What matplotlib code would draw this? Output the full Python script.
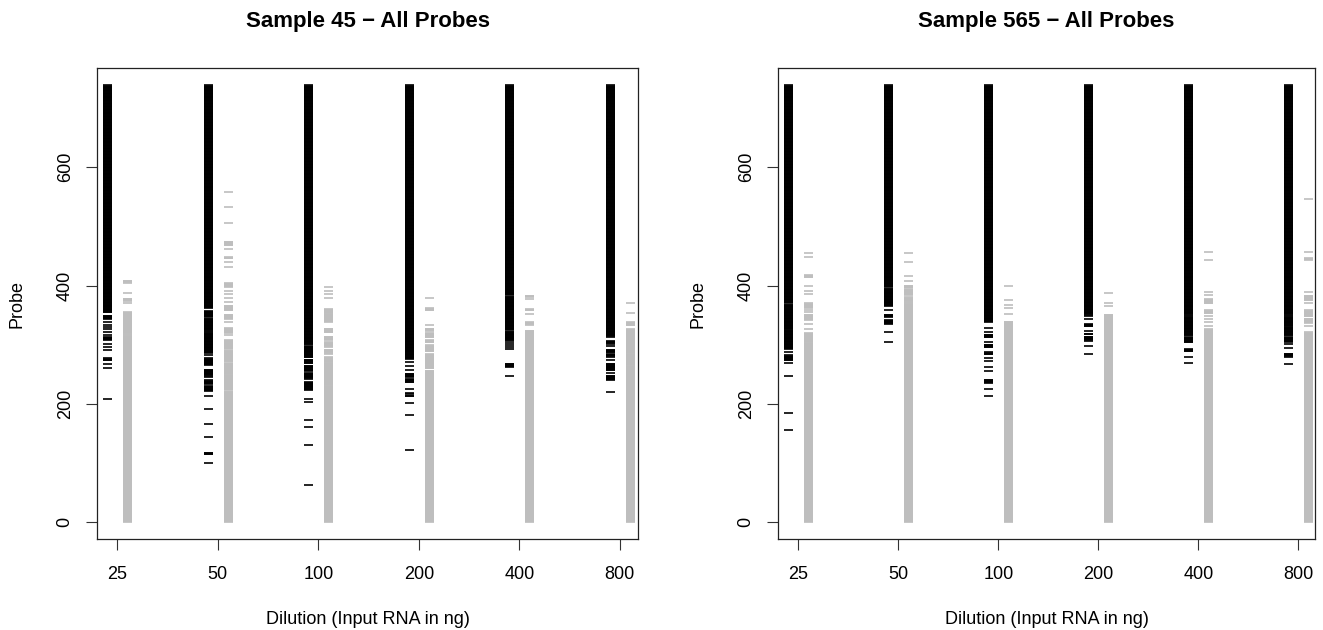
import numpy as np
import matplotlib.pyplot as plt

plt.rcParams['font.family'] = ['Liberation Sans', 'DejaVu Sans']

dilutions = ['25', '50', '100', '200', '400', '800']

# probe ranges (first, last) per dilution
# black = detected probes, gray = not detected
s45_black = [
    [(355, 738), (344, 349), (338, 338), (334, 334), (330, 330), (326, 326), (321, 321), (317, 317),
     (308, 313), (301, 301), (296, 296), (292, 292), (274, 277), (268, 268), (261, 261), (208, 208)],
    [(362, 738), (347, 357), (324, 344), (286, 321), (283, 283), (266, 277), (248, 258), (246, 246),
     (234, 240), (222, 230), (213, 213), (192, 192), (166, 166), (144, 144), (115, 118), (101, 101)],
    [(301, 738), (279, 298), (269, 275), (256, 265), (243, 252), (224, 237), (208, 208), (203, 203),
     (173, 173), (161, 161), (131, 131), (63, 63)],
    [(276, 738), (271, 271), (264, 264), (258, 258), (246, 251), (237, 242), (226, 226), (217, 218),
     (213, 214), (202, 202), (181, 181), (123, 123)],
    [(384, 738), (325, 381), (307, 322), (303, 303), (300, 300), (297, 297), (293, 293), (263, 268),
     (248, 248)],
    [(314, 738), (302, 306), (298, 298), (287, 292), (280, 284), (274, 274), (257, 268), (252, 252),
     (241, 248), (220, 220)],
]
s45_gray = [
    [(1, 316), (319, 355), (370, 370), (374, 378), (387, 387), (405, 408)],
    [(1, 221), (224, 250), (252, 269), (272, 290), (293, 308), (316, 316), (320, 328), (338, 338),
     (344, 351), (358, 366), (373, 373), (379, 379), (386, 386), (391, 391), (398, 404), (432, 432),
     (440, 440), (446, 448), (462, 462), (468, 474), (506, 506), (533, 533), (558, 558)],
    [(1, 229), (231, 269), (271, 279), (285, 287), (289, 292), (297, 304), (308, 314), (321, 327),
     (339, 353), (355, 360), (379, 379), (386, 386), (391, 391), (398, 398)],
    [(1, 256), (260, 284), (289, 299), (304, 308), (313, 320), (324, 327), (334, 334), (358, 362),
     (379, 379)],
    [(1, 324), (334, 338), (352, 352), (358, 360), (377, 377), (381, 383)],
    [(1, 263), (265, 284), (286, 326), (333, 338), (354, 354), (371, 371)],
]
s565_black = [
    [(371, 738), (328, 368), (293, 326), (288, 288), (274, 282), (269, 269), (248, 248), (185, 185),
     (156, 156)],
    [(398, 738), (366, 395), (358, 358), (347, 351), (335, 342), (322, 322), (304, 304)],
    [(339, 738), (328, 328), (321, 321), (313, 317), (304, 304), (296, 300), (284, 287), (277, 277),
     (272, 272), (262, 262), (255, 255), (236, 241), (226, 226), (214, 214)],
    [(351, 738), (348, 348), (344, 344), (331, 335), (323, 323), (318, 319), (307, 314), (298, 298),
     (284, 284)],
    [(351, 738), (316, 348), (304, 313), (289, 293), (280, 280), (269, 269)],
    [(351, 738), (333, 348), (316, 331), (305, 313), (302, 302), (294, 294), (280, 285), (268, 268)],
]
s565_gray = [
    [(1, 303), (305, 320), (327, 327), (335, 335), (342, 351), (355, 355), (359, 359), (362, 370),
     (385, 385), (391, 391), (399, 399), (414, 418), (449, 449), (455, 455)],
    [(1, 370), (373, 380), (384, 393), (396, 400), (407, 407), (417, 417), (440, 440), (455, 455)],
    [(1, 339), (352, 352), (362, 362), (368, 368), (376, 376), (399, 399)],
    [(1, 351), (366, 366), (371, 371), (388, 388)],
    [(1, 326), (331, 331), (338, 338), (344, 344), (349, 349), (353, 358), (370, 377), (384, 384),
     (389, 389), (444, 444), (457, 457)],
    [(1, 321), (331, 331), (337, 344), (348, 358), (371, 371), (375, 383), (389, 389), (444, 446),
     (457, 457), (546, 546)],
]


def probes(ranges):
    return np.concatenate([np.arange(a, b + 1) for a, b in ranges])


W, H = 1323, 630
fig = plt.figure(figsize=(W / 100, H / 100), dpi=100)


def panel(left, right, black, gray, title, xmax):
    ax = fig.add_axes([left / W, 1 - 539.3 / H, (right - left) / W, (539.3 - 68) / H])
    half = 0.045
    for i in range(len(dilutions)):
        x = i + 1
        ax.hlines(probes(gray[i]), x + 0.105 - half, x + 0.105 + half, color='#bebebe', lw=1.2)
        ax.hlines(probes(black[i]), x - 0.095 - half, x - 0.095 + half, color='black', lw=1.2)
    ax.set_xlim(0.801, xmax)
    ax.set_ylim(-28.5, 767.5)
    ax.set_xticks(range(1, 7), dilutions)
    ax.set_yticks([0, 200, 400, 600])
    ax.tick_params(length=8, width=0.8, labelsize=13, color='#333333')
    ax.tick_params(axis='x', pad=11)
    ax.tick_params(axis='y', pad=9)
    for lab in ax.get_yticklabels():
        lab.set_rotation(90)
        lab.set_va('center')
    for s in ax.spines.values():
        s.set_linewidth(0.9)
        s.set_color('#222222')
    cx = (left + right) / 2
    fig.text(cx / W, 1 - 22 / H, title, ha='center', va='center', fontsize=16, fontweight='bold')
    fig.text(cx / W, 1 - 620 / H, 'Dilution (Input RNA in ng)', ha='center', va='center', fontsize=13)
    fig.text((left - 80) / W, 1 - 304 / H, 'Probe', ha='center', va='center', rotation=90, fontsize=13)
    return ax


panel(97.3, 638.3, s45_black, s45_gray, 'Sample 45 \u2212 All Probes', 6.184)
panel(778.3, 1315, s565_black, s565_gray, 'Sample 565 \u2212 All Probes', 6.165)

fig.savefig('out.png', dpi=100)
